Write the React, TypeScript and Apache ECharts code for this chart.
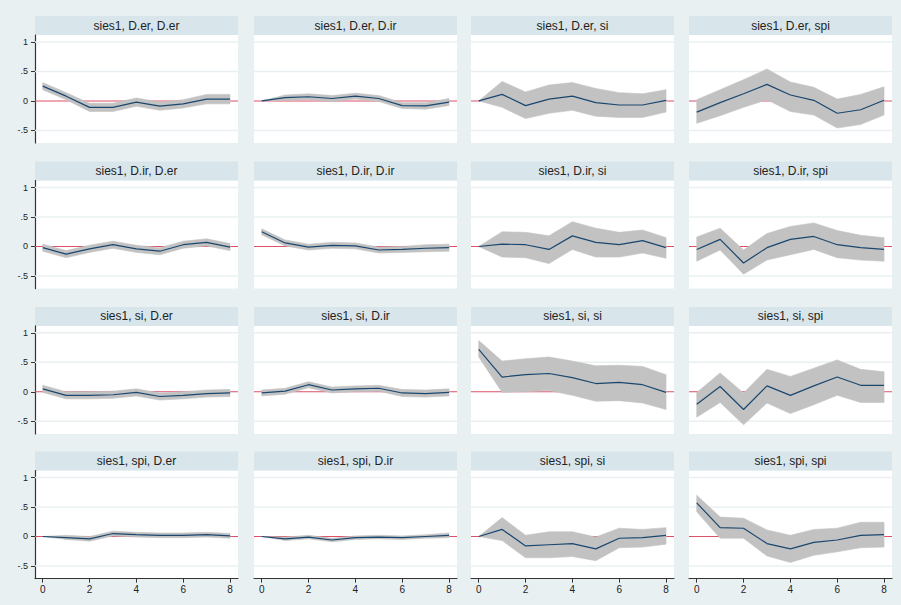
import React, { useEffect, useRef } from 'react';
import * as echarts from 'echarts';

// ---- data ----
const steps = [0, 1, 2, 3, 4, 5, 6, 7, 8];
const irfName = 'sies1';
const impulseNames = ['D.er', 'D.ir', 'si', 'spi'];
const responseNames = ['D.er', 'D.ir', 'si', 'spi'];
const yTickValues = [-0.5, 0, 0.5, 1];
const yTickLabels = ['-.5', '0', '.5', '1'];
const xTickValues = [0, 2, 4, 6, 8];
const xTickLabels = ['0', '2', '4', '6', '8'];

// impulse D.er
const irfErEr = [0.25, 0.08, -0.11, -0.11, -0.02, -0.09, -0.05, 0.03, 0.03];
const loErEr = [0.19, 0.02, -0.18, -0.18, -0.09, -0.16, -0.12, -0.05, -0.05];
const hiErEr = [0.31, 0.14, -0.04, -0.04, 0.05, -0.02, 0.02, 0.11, 0.11];
const irfErIr = [0, 0.055, 0.07, 0.04, 0.08, 0.04, -0.08, -0.085, -0.02];
const loErIr = [0, 0.01, 0.02, -0.01, 0.03, -0.01, -0.13, -0.14, -0.08];
const hiErIr = [0, 0.1, 0.12, 0.09, 0.13, 0.09, -0.03, -0.03, 0.04];
const irfErSi = [0, 0.11, -0.08, 0.03, 0.08, -0.03, -0.07, -0.07, 0.01];
const loErSi = [0, -0.11, -0.3, -0.21, -0.16, -0.26, -0.28, -0.28, -0.19];
const hiErSi = [0, 0.33, 0.15, 0.27, 0.31, 0.21, 0.14, 0.12, 0.19];
const irfErSpi = [-0.19, -0.03, 0.12, 0.28, 0.1, 0.01, -0.21, -0.15, 0.01];
const loErSpi = [-0.38, -0.25, -0.11, 0.02, -0.18, -0.24, -0.46, -0.4, -0.24];
const hiErSpi = [0.02, 0.19, 0.36, 0.54, 0.32, 0.23, 0.03, 0.11, 0.24];

// impulse D.ir
const irfIrEr = [-0.02, -0.13, -0.04, 0.03, -0.04, -0.08, 0.03, 0.07, -0.01];
const loIrEr = [-0.08, -0.19, -0.1, -0.03, -0.1, -0.14, -0.03, 0.01, -0.07];
const hiIrEr = [0.04, -0.07, 0.02, 0.09, 0.02, -0.02, 0.09, 0.13, 0.05];
const irfIrIr = [0.25, 0.06, -0.01, 0.02, 0.01, -0.06, -0.05, -0.03, -0.02];
const loIrIr = [0.2, 0.01, -0.06, -0.03, -0.04, -0.11, -0.1, -0.09, -0.08];
const hiIrIr = [0.3, 0.11, 0.04, 0.07, 0.06, -0.01, 0.0, 0.03, 0.04];
const irfIrSi = [0, 0.04, 0.03, -0.05, 0.18, 0.07, 0.03, 0.1, -0.02];
const loIrSi = [0, -0.18, -0.19, -0.29, -0.05, -0.18, -0.18, -0.11, -0.2];
const hiIrSi = [0, 0.25, 0.24, 0.18, 0.42, 0.31, 0.24, 0.28, 0.15];
const irfIrSpi = [-0.05, 0.12, -0.28, -0.02, 0.12, 0.17, 0.03, -0.02, -0.05];
const loIrSpi = [-0.25, -0.06, -0.47, -0.23, -0.14, -0.05, -0.19, -0.23, -0.25];
const hiIrSpi = [0.16, 0.31, -0.06, 0.22, 0.34, 0.4, 0.27, 0.19, 0.15];

// impulse si
const irfSiEr = [0.05, -0.06, -0.06, -0.05, -0.01, -0.08, -0.06, -0.03, -0.02];
const loSiEr = [-0.01, -0.12, -0.12, -0.11, -0.07, -0.14, -0.12, -0.09, -0.08];
const hiSiEr = [0.11, 0.0, 0.0, 0.01, 0.05, -0.02, 0.0, 0.03, 0.04];
const irfSiIr = [-0.02, 0.01, 0.12, 0.03, 0.05, 0.06, -0.02, -0.03, -0.01];
const loSiIr = [-0.07, -0.04, 0.07, -0.02, 0.0, 0.01, -0.08, -0.09, -0.07];
const hiSiIr = [0.03, 0.06, 0.17, 0.08, 0.1, 0.11, 0.04, 0.03, 0.05];
const irfSiSi = [0.72, 0.25, 0.29, 0.31, 0.24, 0.14, 0.16, 0.12, -0.01];
const loSiSi = [0.59, -0.01, 0.0, 0.02, -0.06, -0.16, -0.15, -0.19, -0.3];
const hiSiSi = [0.87, 0.52, 0.56, 0.59, 0.52, 0.44, 0.45, 0.43, 0.29];
const irfSiSpi = [-0.21, 0.09, -0.3, 0.1, -0.06, 0.1, 0.25, 0.11, 0.11];
const loSiSpi = [-0.43, -0.18, -0.56, -0.19, -0.37, -0.22, -0.06, -0.18, -0.18];
const hiSiSpi = [-0.01, 0.32, -0.02, 0.38, 0.26, 0.4, 0.54, 0.38, 0.34];

// impulse spi
const irfSpiEr = [0, -0.02, -0.04, 0.05, 0.03, 0.02, 0.02, 0.03, 0.01];
const loSpiEr = [0, -0.05, -0.08, 0.01, -0.01, -0.02, -0.02, -0.01, -0.03];
const hiSpiEr = [0, 0.02, 0.0, 0.09, 0.07, 0.06, 0.06, 0.07, 0.05];
const irfSpiIr = [0, -0.04, -0.01, -0.06, -0.02, -0.01, -0.02, 0, 0.02];
const loSpiIr = [0, -0.07, -0.04, -0.09, -0.05, -0.04, -0.05, -0.03, -0.02];
const hiSpiIr = [0, -0.01, 0.02, -0.03, 0.01, 0.02, 0.01, 0.03, 0.06];
const irfSpiSi = [0, 0.12, -0.16, -0.14, -0.12, -0.21, -0.03, -0.02, 0.02];
const loSpiSi = [0, -0.07, -0.36, -0.36, -0.34, -0.41, -0.19, -0.18, -0.13];
const hiSpiSi = [0, 0.32, 0.02, 0.08, 0.08, -0.01, 0.14, 0.12, 0.15];
const irfSpiSpi = [0.57, 0.15, 0.14, -0.12, -0.21, -0.1, -0.06, 0.02, 0.03];
const loSpiSpi = [0.42, -0.03, -0.03, -0.33, -0.44, -0.32, -0.26, -0.19, -0.18];
const hiSpiSpi = [0.7, 0.33, 0.31, 0.11, 0.02, 0.12, 0.14, 0.24, 0.24];

// rows = impulse, cols = response
const panelData = [
  [[irfErEr, loErEr, hiErEr], [irfErIr, loErIr, hiErIr], [irfErSi, loErSi, hiErSi], [irfErSpi, loErSpi, hiErSpi]],
  [[irfIrEr, loIrEr, hiIrEr], [irfIrIr, loIrIr, hiIrIr], [irfIrSi, loIrSi, hiIrSi], [irfIrSpi, loIrSpi, hiIrSpi]],
  [[irfSiEr, loSiEr, hiSiEr], [irfSiIr, loSiIr, hiSiIr], [irfSiSi, loSiSi, hiSiSi], [irfSiSpi, loSiSpi, hiSiSpi]],
  [[irfSpiEr, loSpiEr, hiSpiEr], [irfSpiIr, loSpiIr, hiSpiIr], [irfSpiSi, loSpiSi, hiSpiSi], [irfSpiSpi, loSpiSpi, hiSpiSpi]],
];

// ---- layout & style ----
const W = 901;
const H = 605;
const colLefts = [35, 254, 471, 689];
const plotTops = [35, 180.6, 325.9, 470.6];
const plotW = 203;
const plotH = 108;
const stripH = 19;
const X_MIN = -0.33;
const X_MAX = 8.34;
const Y_MIN = -0.714;
const Y_MAX = 1.117;

const FONT = '"Liberation Sans", Arial, Helvetica, sans-serif';
const BG = '#e9f0f2';
const STRIP = '#d8e5eb';
const GRIDLINE = '#eaf0f2';
const ZERO = '#dd5068';
const BAND = '#c2c2c2';
const LINE = '#1a476f';
const AXIS = '#333333';

function buildOption() {
  const grid: any[] = [];
  const xAxis: any[] = [];
  const yAxis: any[] = [];
  const series: any[] = [];
  const graphic: any[] = [];

  for (let r = 0; r < 4; r++) {
    for (let c = 0; c < 4; c++) {
      const gi = r * 4 + c;
      const left = colLefts[c];
      const top = plotTops[r];
      const [irf, lo, hi] = panelData[r][c];
      const isBottom = r === 3;
      const isLeft = c === 0;

      grid.push({
        left, top, width: plotW, height: plotH,
        show: true, backgroundColor: '#ffffff', borderWidth: 0,
        containLabel: false, outerBoundsMode: 'none',
      });

      xAxis.push({
        type: 'value', gridIndex: gi, min: X_MIN, max: X_MAX, show: isBottom,
        axisLine: { show: isBottom, onZero: false, lineStyle: { color: AXIS, width: 1.2 } },
        axisTick: { show: isBottom, customValues: xTickValues, length: 4, lineStyle: { color: AXIS, width: 1 } },
        axisLabel: {
          show: isBottom, customValues: xTickValues,
          formatter: (v: number) => { const i = xTickValues.indexOf(v); return i >= 0 ? xTickLabels[i] : ''; },
          fontSize: 10, color: '#222', fontFamily: FONT, margin: 6,
        },
        splitLine: { show: false },
      });

      yAxis.push({
        type: 'value', gridIndex: gi, min: Y_MIN, max: Y_MAX, show: isLeft,
        axisLine: { show: isLeft, onZero: false, lineStyle: { color: AXIS, width: 1.2 } },
        axisTick: { show: isLeft, customValues: yTickValues, length: 4, lineStyle: { color: AXIS, width: 1 } },
        axisLabel: {
          show: isLeft, customValues: yTickValues,
          formatter: (v: number) => { const i = yTickValues.indexOf(v); return i >= 0 ? yTickLabels[i] : ''; },
          fontSize: 9, color: '#222', fontFamily: FONT, margin: 7,
        },
        splitLine: { show: false },
      });

      // grid lines, zero line (as thin filled rects) and confidence band
      series.push({
        type: 'custom', xAxisIndex: gi, yAxisIndex: gi, z: 2, silent: true, data: [[0, 0]],
        renderItem: (_params: any, api: any) => {
          const children: any[] = [];
          for (const v of yTickValues) {
            const p1 = api.coord([X_MIN, v]);
            const p2 = api.coord([X_MAX, v]);
            const th = v === 0 ? 1 : 1.5;
            children.push({
              type: 'rect',
              shape: { x: p1[0], y: p1[1] - th / 2, width: p2[0] - p1[0], height: th },
              style: { fill: v === 0 ? ZERO : GRIDLINE, stroke: 'none' },
            });
          }
          const pts: number[][] = [];
          for (let k = 0; k < steps.length; k++) pts.push(api.coord([steps[k], hi[k]]));
          for (let k = steps.length - 1; k >= 0; k--) pts.push(api.coord([steps[k], lo[k]]));
          children.push({
            type: 'polygon', shape: { points: pts },
            style: { fill: BAND, stroke: BAND, lineWidth: 0.6 },
          });
          return { type: 'group', children };
        },
      });

      // IRF line
      series.push({
        type: 'line', xAxisIndex: gi, yAxisIndex: gi, z: 3, silent: true, symbol: 'none',
        data: steps.map((s, k) => [s, irf[k]]),
        lineStyle: { color: LINE, width: 1.2 },
      });

      // title strip
      graphic.push({
        type: 'rect',
        shape: { x: left, y: top - stripH, width: plotW, height: stripH },
        style: { fill: STRIP }, silent: true,
      });
      graphic.push({
        type: 'text', x: left + plotW / 2, y: top - stripH / 2,
        style: {
          text: `${irfName}, ${impulseNames[r]}, ${responseNames[c]}`,
          align: 'center', verticalAlign: 'middle',
          fontSize: 12, fontFamily: FONT, fill: '#222222',
        },
        silent: true,
      });
    }
  }

  return { animation: false, backgroundColor: BG, grid, xAxis, yAxis, series, graphic };
}

export default function App() {
  const ref = useRef<HTMLDivElement>(null);
  useEffect(() => {
    if (!ref.current) return;
    const chart = echarts.init(ref.current, undefined, { renderer: 'svg', width: W, height: H });
    chart.setOption(buildOption() as any);
    return () => chart.dispose();
  }, []);
  return <div ref={ref} style={{ position: 'fixed', left: 0, top: 0, width: W, height: H, background: BG }} />;
}
